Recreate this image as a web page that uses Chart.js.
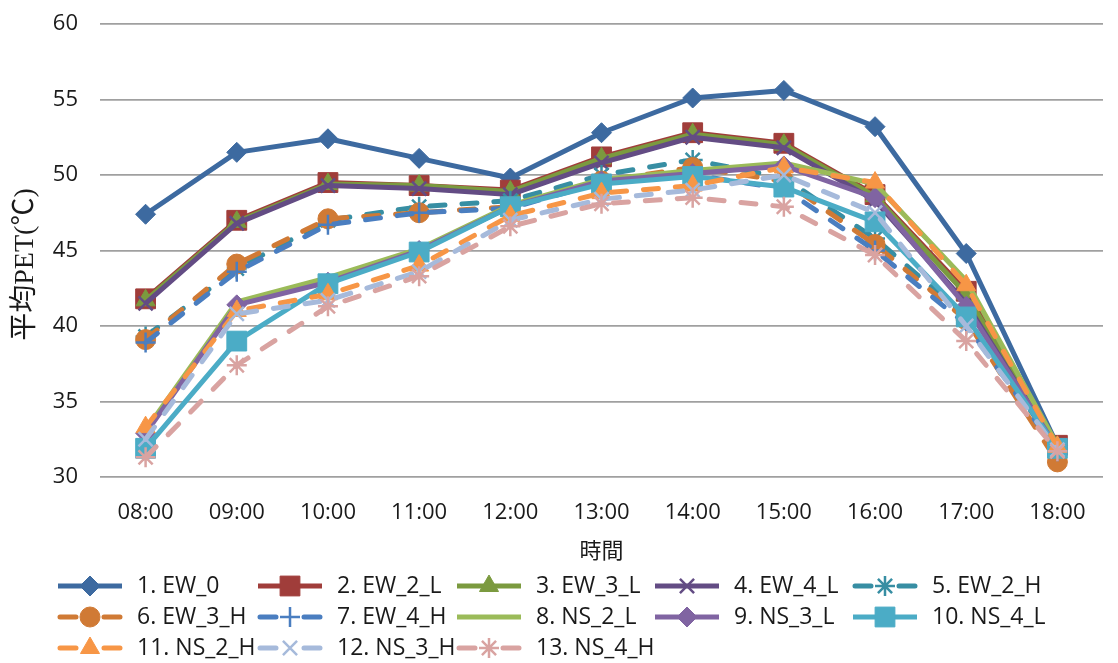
<!DOCTYPE html>
<html>
<head>
<meta charset="utf-8">
<script src="https://cdn.jsdelivr.net/npm/chart.js@4/dist/chart.umd.min.js"></script>
<style>
  html, body { margin: 0; padding: 0; background: #ffffff; }
  #wrap { width: 1118px; height: 663px; }
</style>
</head>
<body>
<div id="wrap"><canvas id="c" width="1118" height="663"></canvas></div>
<script>
// Hourly mean PET (°C) for 13 street-canyon configurations
const hours = ['08:00', '09:00', '10:00', '11:00', '12:00', '13:00', '14:00', '15:00', '16:00', '17:00', '18:00'];
const yTicks = [30, 35, 40, 45, 50, 55, 60];

const seriesNames = [
  '1. EW_0', '2. EW_2_L', '3. EW_3_L', '4. EW_4_L', '5. EW_2_H',
  '6. EW_3_H', '7. EW_4_H', '8. NS_2_L', '9. NS_3_L', '10. NS_4_L',
  '11. NS_2_H', '12. NS_3_H', '13. NS_4_H'
];

const ew0  = [47.4, 51.5, 52.4, 51.1, 49.8, 52.8, 55.1, 55.6, 53.2, 44.8, 32.1];
const ew2L = [41.8, 47.0, 49.5, 49.3, 49.0, 51.2, 52.8, 52.1, 48.7, 42.3, 32.1];
const ew3L = [41.7, 46.9, 49.4, 49.3, 48.9, 51.1, 52.7, 52.0, 48.6, 42.1, 32.0];
const ew4L = [41.5, 46.8, 49.3, 49.1, 48.7, 50.8, 52.5, 51.8, 48.3, 41.5, 31.9];
const ew2H = [39.3, 43.8, 47.0, 47.9, 48.3, 50.0, 51.0, 49.8, 45.8, 40.6, 31.8];
const ew3H = [39.1, 44.1, 47.1, 47.5, 47.9, 49.6, 50.5, 49.6, 45.4, 40.4, 31.0];
const ew4H = [38.9, 43.6, 46.7, 47.5, 47.8, 49.5, 50.0, 49.1, 45.0, 40.1, 31.7];
const ns2L = [33.1, 41.6, 43.2, 45.1, 48.0, 49.7, 50.3, 50.8, 49.4, 43.0, 32.1];
const ns3L = [32.9, 41.4, 42.9, 45.0, 47.9, 49.6, 50.1, 50.6, 48.5, 41.3, 31.9];
const ns4L = [31.9, 39.0, 42.8, 44.9, 47.9, 49.4, 49.9, 49.2, 46.9, 40.6, 31.9];
const ns2H = [33.3, 41.0, 42.1, 44.0, 47.3, 48.8, 49.3, 50.5, 49.5, 42.7, 32.0];
const ns3H = [32.5, 40.8, 41.7, 43.6, 47.0, 48.4, 49.0, 50.0, 47.5, 40.0, 31.8];
const ns4H = [31.3, 37.4, 41.3, 43.3, 46.6, 48.1, 48.5, 47.9, 44.7, 39.0, 31.7];

const seriesValues = [ew0, ew2L, ew3L, ew4L, ew2H, ew3H, ew4H, ns2L, ns3L, ns4L, ns2H, ns3H, ns4H];

// Line styling per series
const colors = ['#3d6aa0', '#a03d3a', '#7b9a3f', '#634c84', '#378ea3', '#d07a35', '#4a7ec0',
                '#9bbb59', '#8064a2', '#4bacc6', '#f79646', '#a6badb', '#d9a3a1'];
const markers = ['rectRot', 'rect', 'triangle', 'crossRot', 'star', 'circle', 'cross',
                 false, 'rectRot', 'rect', 'triangle', 'crossRot', 'star'];
const markerSize = { rectRot: 10, rect: 14, triangle: 11, crossRot: 10, star: 10, circle: 10, cross: 10 };
const dashed = [false, false, false, false, true, true, true, false, false, false, true, true, true];
const DASH = [15, 17];

const UI_FONT = '"Open Sans", "Noto Sans", sans-serif';
const TEXT = '#1a1a1a';

const isStroke = s => s === 'cross' || s === 'crossRot' || s === 'star';

const datasets = seriesNames.map((name, i) => {
  const m = markers[i];
  return {
    label: name,
    data: seriesValues[i],
    borderColor: colors[i],
    backgroundColor: colors[i],
    borderWidth: 5,
    borderDash: dashed[i] ? DASH : [],
    borderCapStyle: dashed[i] ? 'round' : 'butt',
    borderJoinStyle: 'round',
    tension: 0,
    pointStyle: m || 'circle',
    pointRadius: m ? markerSize[m] : 0,
    pointHoverRadius: m ? markerSize[m] : 0,
    pointBorderWidth: m && isStroke(m) ? 2.5 : 1,
    pointBackgroundColor: colors[i],
    pointBorderColor: colors[i],
    order: seriesNames.length - i
  };
});

// Legend drawn as a fixed 5-column grid beneath the axis
const gridLegend = {
  id: 'gridLegend',
  afterDraw(chart) {
    const ctx = chart.ctx;
    const colX = [58, 258, 457, 655, 853];
    const rowY = [586, 617, 648];
    const lineLen = 64;
    ctx.save();
    seriesNames.forEach((name, i) => {
      const x = colX[i % 5];
      const y = rowY[Math.floor(i / 5)];
      const c = colors[i];
      ctx.strokeStyle = c;
      ctx.fillStyle = c;
      ctx.lineWidth = 5;
      ctx.setLineDash([]);
      ctx.beginPath();
      if (dashed[i]) {
        ctx.lineCap = 'round';
        ctx.moveTo(x + 2, y); ctx.lineTo(x + 18, y);
        ctx.moveTo(x + lineLen - 18, y); ctx.lineTo(x + lineLen - 2, y);
      } else {
        ctx.lineCap = 'butt';
        ctx.moveTo(x, y); ctx.lineTo(x + lineLen, y);
      }
      ctx.stroke();
      const m = markers[i];
      if (m && Chart.helpers && Chart.helpers.drawPoint) {
        ctx.lineCap = 'butt';
        ctx.lineWidth = isStroke(m) ? 2.5 : 1;
        Chart.helpers.drawPoint(ctx, {
          pointStyle: m, radius: markerSize[m], borderWidth: ctx.lineWidth, rotation: 0
        }, x + lineLen / 2, y);
      }
      ctx.fillStyle = TEXT;
      ctx.font = '23px ' + UI_FONT;
      ctx.textBaseline = 'middle';
      ctx.textAlign = 'left';
      ctx.fillText(name, x + lineLen + 15, y);
    });
    ctx.restore();
  }
};

new Chart(document.getElementById('c'), {
  type: 'line',
  data: { labels: hours, datasets },
  plugins: [gridLegend],
  options: {
    responsive: false,
    animation: false,
    layout: { padding: { top: 24, right: 3, bottom: 96, left: 0 } },
    plugins: {
      legend: { display: false },
      tooltip: { enabled: false }
    },
    scales: {
      x: {
        type: 'category',
        offset: true,
        grid: { display: false },
        border: { display: false },
        ticks: { color: TEXT, font: { family: UI_FONT, size: 22 }, padding: 15, maxRotation: 0 },
        title: {
          display: true, text: '時間', color: TEXT,
          font: { family: '"Noto Sans CJK TC", sans-serif', size: 22 },
          padding: { top: 0, bottom: 4 }
        },
        afterFit(scale) { scale.height = 90; }
      },
      y: {
        min: yTicks[0],
        max: yTicks[yTicks.length - 1],
        afterBuildTicks(scale) { scale.ticks = yTicks.map(v => ({ value: v })); },
        grid: { color: '#a0a0a0', lineWidth: 1.7, drawTicks: false },
        border: { display: false },
        ticks: { color: TEXT, font: { family: UI_FONT, size: 22 }, padding: 22 },
        title: {
          display: true, text: '平均PET(℃)\u3000', color: TEXT,
          font: { family: '"Liberation Serif", "Noto Sans CJK TC", serif', size: 28 },
          padding: { top: 9, bottom: 0 }
        },
        afterFit(scale) {
          scale.width = 100;
          scale.paddingTop = 0;
          scale.paddingBottom = 0;
        }
      }
    }
  }
});
</script>
</body>
</html>
